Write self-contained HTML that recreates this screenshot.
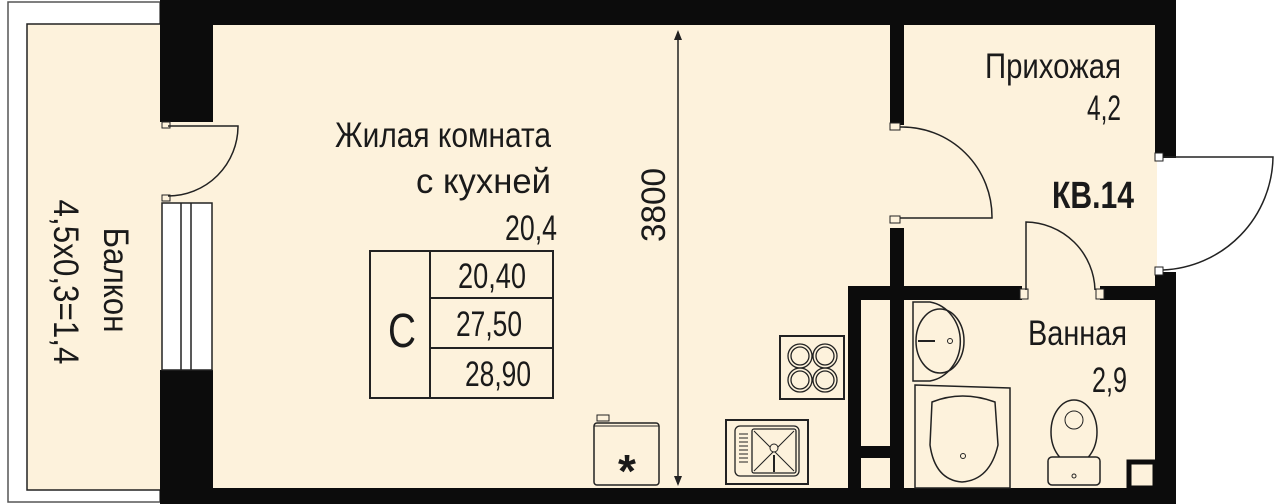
<!DOCTYPE html>
<html><head><meta charset="utf-8"><style>
html,body{margin:0;padding:0;background:#fff}
svg{display:block}
text{font-family:"Liberation Sans Narrow","Liberation Sans",sans-serif;fill:#1a1a1a}
</style></head><body>
<svg width="1280" height="504" viewBox="0 0 1280 504" xmlns="http://www.w3.org/2000/svg">
<rect width="1280" height="504" fill="#fff"/>
<!-- balcony -->
<rect x="8" y="2" width="152" height="500" fill="none" stroke="#555" stroke-width="1.5"/>
<rect x="27" y="24" width="135" height="466" fill="#fdf2dc" stroke="#222" stroke-width="1.5"/>
<!-- main fill -->
<rect x="160" y="24" width="997" height="466" fill="#fdf2dc"/>
<!-- outer walls -->
<rect x="160" y="0" width="1016" height="25" fill="#0c0c0c"/>
<rect x="160" y="488" width="1016" height="16" fill="#0c0c0c"/>
<rect x="160" y="0" width="53" height="122" fill="#0c0c0c"/>
<rect x="160" y="370" width="53" height="120" fill="#0c0c0c"/>
<rect x="1155" y="0" width="21" height="158" fill="#0c0c0c"/>
<rect x="1155" y="272" width="21" height="232" fill="#0c0c0c"/>
<!-- balcony window -->
<rect x="162" y="203" width="50" height="167" fill="#fff" stroke="#222" stroke-width="1.5"/>
<line x1="181" y1="203" x2="181" y2="370" stroke="#222" stroke-width="1.5"/>
<line x1="191" y1="203" x2="191" y2="370" stroke="#222" stroke-width="1.5"/>
<rect x="162" y="195" width="8" height="6" fill="#fdf2dc" stroke="#222"/>
<rect x="162" y="122" width="8" height="6" fill="#fdf2dc" stroke="#222"/>
<!-- balcony door -->
<path d="M168 126 L238 126 A70 70 0 0 1 168 196" fill="none" stroke="#222" stroke-width="1.5"/>
<!-- interior walls -->
<rect x="890" y="25" width="14" height="100" fill="#0c0c0c"/>
<rect x="890" y="228" width="14" height="262" fill="#0c0c0c"/>
<rect x="890" y="123" width="10" height="7" fill="#fdf2dc" stroke="#222"/>
<rect x="890" y="216" width="10" height="7" fill="#fdf2dc" stroke="#222"/>
<rect x="848" y="286" width="174" height="14" fill="#0c0c0c"/>
<rect x="1100" y="286" width="57" height="14" fill="#0c0c0c"/>
<rect x="848" y="286" width="13" height="204" fill="#0c0c0c"/>
<rect x="848" y="446" width="50" height="12" fill="#0c0c0c"/>
<rect x="1020" y="289" width="8" height="10" fill="#fdf2dc" stroke="#222"/>
<rect x="1096" y="289" width="8" height="10" fill="#fdf2dc" stroke="#222"/>
<!-- hall door -->
<path d="M900 127 A90 90 0 0 1 992 218 L900 218" fill="none" stroke="#222" stroke-width="1.5"/>
<!-- bath door -->
<path d="M1026 290 L1026 222 A70 70 0 0 1 1095 290" fill="none" stroke="#222" stroke-width="1.5"/>
<!-- entry door -->
<rect x="1155" y="153" width="8" height="8" fill="#fff" stroke="#222"/>
<rect x="1155" y="267" width="8" height="8" fill="#fff" stroke="#222"/>
<path d="M1163 157 L1273 157 A115 115 0 0 1 1163 270" fill="none" stroke="#222" stroke-width="1.5"/>
<!-- dimension line -->
<line x1="678" y1="32" x2="678" y2="484" stroke="#222" stroke-width="1.5"/>
<path d="M674 40 L678 30 L682 40 Z M674 476 L678 486 L682 476 Z" fill="#222"/>
<text transform="translate(665,205) rotate(-90)" font-size="34" text-anchor="middle" textLength="74" lengthAdjust="spacingAndGlyphs">3800</text>
<!-- labels -->
<text x="335" y="147" font-size="35" textLength="216" lengthAdjust="spacingAndGlyphs">Жилая комната</text>
<text x="416" y="193" font-size="35" textLength="135" lengthAdjust="spacingAndGlyphs">с кухней</text>
<text x="505" y="240" font-size="35" textLength="52" lengthAdjust="spacingAndGlyphs">20,4</text>
<text x="985" y="78" font-size="35" textLength="136" lengthAdjust="spacingAndGlyphs">Прихожая</text>
<text x="1087" y="120" font-size="35" textLength="34" lengthAdjust="spacingAndGlyphs">4,2</text>
<text x="1052" y="208" font-size="38" font-weight="bold" textLength="82" lengthAdjust="spacingAndGlyphs">КВ.14</text>
<text x="1028" y="345" font-size="35" textLength="99" lengthAdjust="spacingAndGlyphs">Ванная</text>
<text x="1092" y="392" font-size="35" textLength="35" lengthAdjust="spacingAndGlyphs">2,9</text>
<text transform="translate(104,280) rotate(90)" font-size="35" text-anchor="middle" textLength="105" lengthAdjust="spacingAndGlyphs">Балкон</text>
<text transform="translate(54,282) rotate(90)" font-size="35" text-anchor="middle" textLength="165" lengthAdjust="spacingAndGlyphs">4,5х0,3=1,4</text>
<!-- table -->
<rect x="370" y="251" width="183" height="147" fill="none" stroke="#222" stroke-width="2"/>
<line x1="430" y1="251" x2="430" y2="398" stroke="#222" stroke-width="2"/>
<line x1="430" y1="298" x2="553" y2="298" stroke="#222" stroke-width="2"/>
<line x1="430" y1="348" x2="553" y2="348" stroke="#222" stroke-width="2"/>
<text x="388" y="347" font-size="48" textLength="28" lengthAdjust="spacingAndGlyphs">С</text>
<text x="458" y="288" font-size="35" textLength="68" lengthAdjust="spacingAndGlyphs">20,40</text>
<text x="456" y="336" font-size="35" textLength="66" lengthAdjust="spacingAndGlyphs">27,50</text>
<text x="465" y="386" font-size="35" textLength="66" lengthAdjust="spacingAndGlyphs">28,90</text>
<!-- fridge -->
<rect x="594" y="423" width="65" height="62" rx="3" fill="none" stroke="#222" stroke-width="1.5"/>
<line x1="594" y1="426" x2="659" y2="426" stroke="#222"/>
<rect x="597" y="415" width="12" height="6" fill="none" stroke="#222"/>
<text x="627" y="487" font-size="46" font-weight="bold" text-anchor="middle">*</text>
<!-- stove -->
<rect x="780" y="336" width="64" height="63" fill="none" stroke="#222" stroke-width="2"/>
<g fill="none" stroke="#222" stroke-width="1.3">
<circle cx="800" cy="356" r="12"/><circle cx="800" cy="356" r="9"/>
<circle cx="825" cy="356" r="12"/><circle cx="825" cy="356" r="9"/>
<circle cx="800" cy="380" r="12"/><circle cx="800" cy="380" r="9"/>
<circle cx="825" cy="380" r="12"/><circle cx="825" cy="380" r="9"/>
</g>
<!-- sink -->
<rect x="726" y="420" width="82" height="64" fill="none" stroke="#222" stroke-width="2"/>
<rect x="735" y="426" width="64" height="50" rx="5" fill="none" stroke="#222" stroke-width="1.3"/>
<rect x="752" y="429" width="44" height="44" rx="2" fill="none" stroke="#222" stroke-width="1.3"/>
<path d="M754 431 L794 471 M794 431 L754 471" stroke="#222"/>
<circle cx="774" cy="448" r="4" fill="#fdf2dc" stroke="#222"/>
<line x1="774" y1="455" x2="774" y2="472" stroke="#222" stroke-width="2"/>
<g stroke="#222"><line x1="739" y1="434" x2="748" y2="434"/><line x1="739" y1="438" x2="748" y2="438"/><line x1="739" y1="442" x2="748" y2="442"/><line x1="739" y1="446" x2="748" y2="446"/><line x1="739" y1="450" x2="748" y2="450"/><line x1="739" y1="454" x2="748" y2="454"/><line x1="739" y1="458" x2="748" y2="458"/><line x1="739" y1="462" x2="748" y2="462"/></g>
<!-- washbasin -->
<path d="M913 302 L930 302 A36 40 0 0 1 930 381 L913 381 Z" fill="none" stroke="#222" stroke-width="1.5"/>
<ellipse cx="940" cy="341" rx="24" ry="32" fill="none" stroke="#222" stroke-width="1.5"/>
<line x1="918" y1="341" x2="935" y2="341" stroke="#222" stroke-width="2"/>
<circle cx="950" cy="341" r="2.5" fill="none" stroke="#222"/>
<!-- bath -->
<path d="M915 385 L1010 388 L1010 488 L915 488 Z" fill="none" stroke="#222" stroke-width="1.5"/>
<path d="M932 402 Q962 390 995 402 L998 445 Q990 480 962 482 Q935 480 930 445 Z" fill="none" stroke="#222" stroke-width="1.5"/>
<circle cx="963" cy="456" r="2.5" fill="none" stroke="#222"/>
<!-- toilet -->
<ellipse cx="1074" cy="432" rx="23" ry="32" fill="none" stroke="#222" stroke-width="1.5"/>
<circle cx="1074" cy="420" r="9" fill="none" stroke="#222"/>
<rect x="1048" y="457" width="52" height="28" rx="4" fill="#fdf2dc" stroke="#222" stroke-width="1.5"/>
<circle cx="1074" cy="476" r="2" fill="none" stroke="#222"/>
<!-- small shaft -->
<rect x="1129" y="462" width="26" height="26" fill="#fdf2dc" stroke="#0c0c0c" stroke-width="5"/>
</svg>
</body></html>
